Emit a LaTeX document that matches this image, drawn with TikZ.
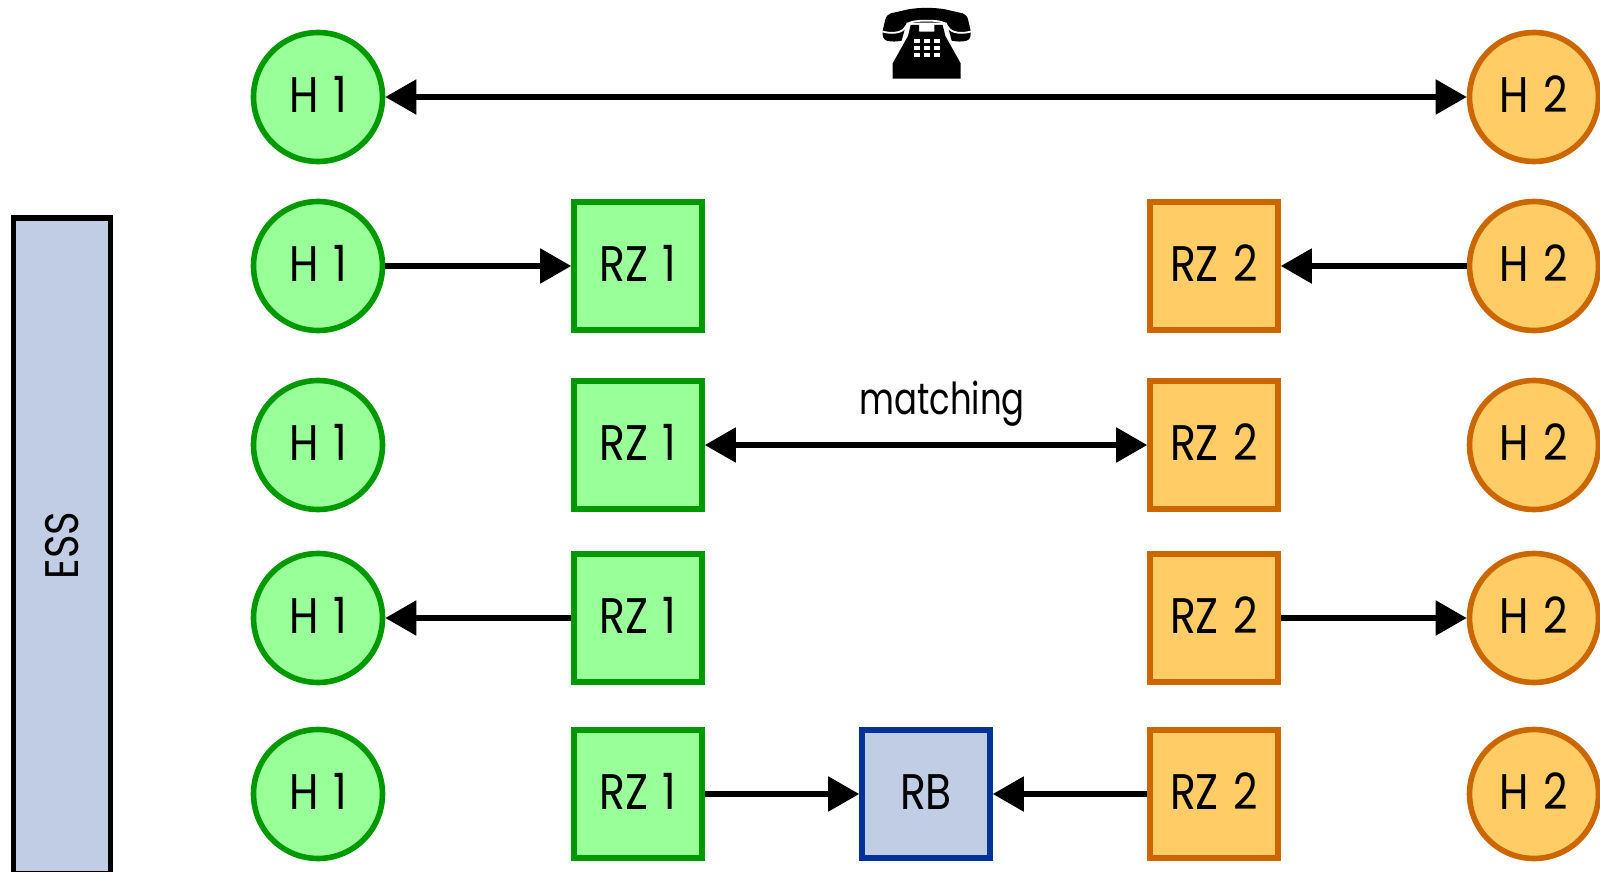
\documentclass[tikz,border=0pt]{standalone}
\usepackage{fontspec}
\setmainfont{Poppins}
\newfontfamily\lblfont{Poppins}[FakeStretch=0.85,WordSpace=1.3]
\newfontfamily\matchfont{Poppins}[FakeStretch=0.77]
\usetikzlibrary{arrows.meta}
\definecolor{gfill}{HTML}{99FF99}
\definecolor{gline}{HTML}{009900}
\definecolor{ofill}{HTML}{FFCC66}
\definecolor{oline}{HTML}{CC6600}
\definecolor{bfill}{HTML}{C0CDE4}
\definecolor{bline}{HTML}{003399}
\tikzset{
  x=0.5pt,y=-0.5pt,
  lab/.style={font=\lblfont\fontsize{25}{25}\selectfont,text=black,inner sep=0pt,outer sep=auto,text height=17.5pt,text depth=2pt},
  hnode/.style={circle,lab,minimum size=64.5pt,line width=2.8pt},
  rnode/.style={rectangle,lab,minimum size=64pt,line width=2.8pt},
  hone/.style={hnode,draw=gline,fill=gfill},
  htwo/.style={hnode,draw=oline,fill=ofill},
  rone/.style={rnode,draw=gline,fill=gfill},
  rtwo/.style={rnode,draw=oline,fill=ofill},
  rbnode/.style={rnode,draw=bline,fill=bfill},
  conn/.style={line width=2.6pt,draw=black,-{Triangle[length=15.5pt,width=17pt]}},
  biconn/.style={line width=2.6pt,draw=black,{Triangle[length=15.5pt,width=17pt]}-{Triangle[length=15.5pt,width=17pt]}},
}
\begin{document}
\begin{tikzpicture}
\useasboundingbox (0,0) rectangle (1600,872);
\clip (0,0) rectangle (1600,872);
% ESS bar
\node[draw=black,fill=bfill,line width=2.75pt,rectangle,minimum width=48.5pt,minimum height=327.75pt,inner sep=0pt,
      font=\lblfont\fontsize{23.5}{24}\selectfont] (ess) at (62,545.75) {\rotatebox{90}{ESS}};
% row 1
\node[hone] (h11) at (318,97) {H 1};
\node[htwo] (h21) at (1534,97) {H 2};
\draw[biconn] (h11) -- (h21);
% phone
\begin{scope}[shift={(840,0)},x=0.16667pt,y=-0.16667pt]
  \fill[black] (128,92) -- (135,62) .. controls (138,50) and (142,43) .. (152,40) -- (205,28) .. controls (240,22) and (280,22) .. (315,28) -- (368,40) .. controls (378,43) and (382,50) .. (385,62) -- (392,92) .. controls (393,108) and (391,118) .. (380,122) .. controls (365,126) and (350,125) .. (335,122) -- (325,85) -- (195,85) -- (185,122) .. controls (170,125) and (155,126) .. (140,122) .. controls (129,118) and (127,108) .. (128,92) -- cycle;
  \draw[white,line width=0.9pt] (126,94) .. controls (150,102) and (185,100) .. (194,84) .. controls (202,66) and (220,62) .. (260,62) .. controls (300,62) and (318,66) .. (326,84) .. controls (335,100) and (370,102) .. (394,94);
  \fill[white] (200,68) -- (320,68) -- (326,90) -- (194,90) -- cycle;
  \fill[black] (237,75) -- (237,95) -- (283,95) -- (283,75) -- (308,75) -- (316,108) -- (362,190) -- (362,236) -- (158,236) -- (158,190) -- (204,108) -- (212,75) -- cycle;
  \foreach \px in {221,251,281}
    \foreach \py in {118,138,158}
      \fill[white] (\px,\py) rectangle ++(19,12);
\end{scope}
% row 2
\node[hone] (h12) at (318,266) {H 1};
\node[rone] (r12) at (638,266) {RZ 1};
\node[rtwo] (r22) at (1214,266) {RZ 2};
\node[htwo] (h22) at (1534,266) {H 2};
\draw[conn] (h12) -- (r12);
\draw[conn] (h22) -- (r22);
% row 3
\node[hone] (h13) at (318,445) {H 1};
\node[rone] (r13) at (638,445) {RZ 1};
\node[rtwo] (r23) at (1214,445) {RZ 2};
\node[htwo] (h23) at (1534,445) {H 2};
\draw[biconn] (r13) -- (r23);
\node[lab,text height=,text depth=,font=\matchfont\fontsize{22}{22}\selectfont,anchor=base] (match) at (942,414) {matching};
% row 4
\node[hone] (h14) at (318,618) {H 1};
\node[rone] (r14) at (638,618) {RZ 1};
\node[rtwo] (r24) at (1214,618) {RZ 2};
\node[htwo] (h24) at (1534,618) {H 2};
\draw[conn] (r14) -- (h14);
\draw[conn] (r24) -- (h24);
% row 5
\node[hone] (h15) at (318,794) {H 1};
\node[rone] (r15) at (638,794) {RZ 1};
\node[rbnode] (rb) at (926,794) {RB};
\node[rtwo] (r25) at (1214,794) {RZ 2};
\node[htwo] (h25) at (1534,794) {H 2};
\draw[conn] (r15) -- (rb);
\draw[conn] (r25) -- (rb);
\end{tikzpicture}
\end{document}
